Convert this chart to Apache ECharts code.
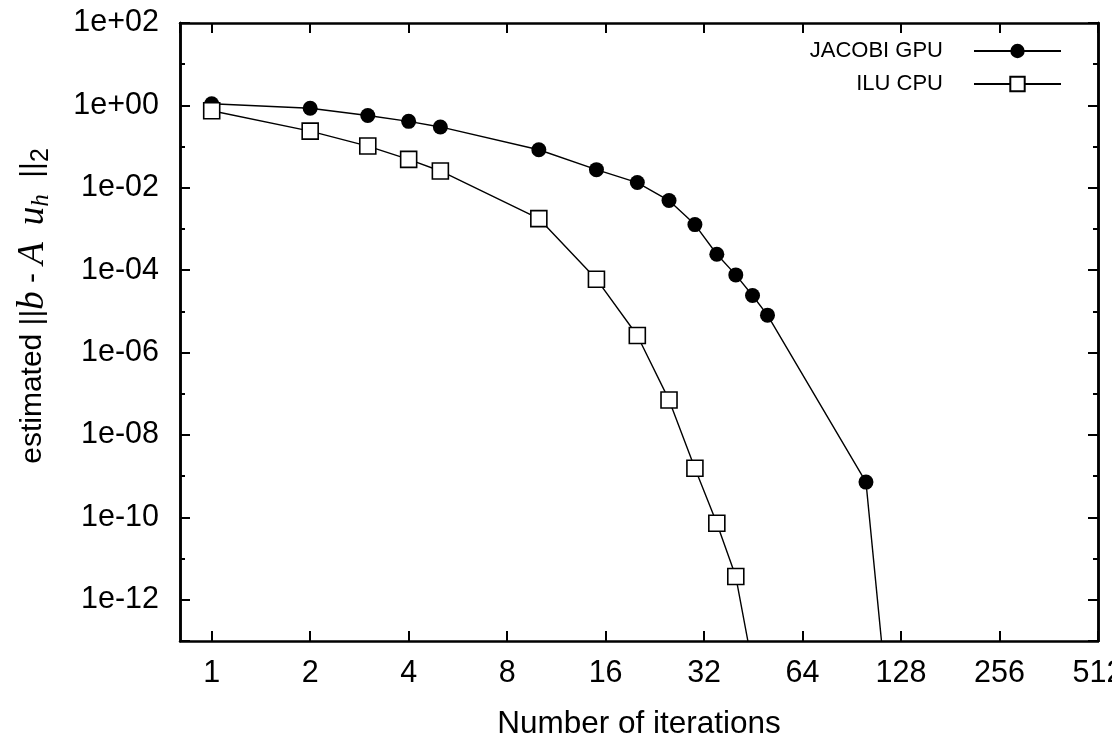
<!DOCTYPE html>
<html>
<head>
<meta charset="utf-8">
<script src="https://cdn.jsdelivr.net/npm/echarts@6/dist/echarts.min.js"></script>
<style>html,body{margin:0;padding:0;background:#fff;}#main{width:1112px;height:738px;}</style>
</head>
<body>
<div id="main"></div>
<script>
// ---- data ----
const seriesNames = ['JACOBI GPU', 'ILU CPU'];
const jacobiIter = [1, 2, 3, 4, 5, 10, 15, 20, 25, 30, 35, 40, 45, 50, 100, 120];
const jacobiRes  = [1.1, 0.85, 0.57, 0.41, 0.30, 0.084, 0.0276, 0.0134, 0.0049, 0.00128, 2.44e-4, 7.7e-5, 2.43e-5, 8.1e-6, 7.2e-10, 2.6e-16];
const iluIter = [1, 2, 3, 4, 5, 10, 15, 20, 25, 30, 35, 40, 45];
const iluRes  = [0.74, 0.238, 0.103, 0.049, 0.0256, 0.00179, 6.05e-5, 2.6e-6, 7.1e-8, 1.56e-9, 7.2e-11, 3.67e-12, 2.5e-14];
const xRange = [0.8, 512];
const yRange = [1e-13, 1e2];
const xTitle = 'Number of iterations';

const FONT = 'Liberation Sans, Arial, sans-serif';
const SERIF = 'Liberation Serif, Times New Roman, serif';

function xLabel(v) {
  const e = Math.log2(v);
  if (Math.abs(e - Math.round(e)) > 1e-6) return '';
  return String(Math.round(v));
}
function yLabel(v) {
  const e = Math.round(Math.log10(v));
  if (Math.abs(Math.log10(v) - e) > 1e-6 || e % 2 !== 0) return '';
  const s = e < 0 ? '-' : '+';
  const a = Math.abs(e);
  return '1e' + s + (a < 10 ? '0' + a : String(a));
}

const pair = (xs, ys) => xs.map((x, i) => [x, ys[i]]);

const axisLine = { show: true, lineStyle: { color: '#000', width: 2.5 } };

const chart = echarts.init(document.getElementById('main'), null, { renderer: 'canvas' });
chart.setOption({
  backgroundColor: '#fff',
  animation: false,
  grid: { left: 180, right: 14, top: 23, bottom: 97, containLabel: false, outerBoundsMode: 'none' },
  legend: {
    orient: 'vertical', right: 45, top: 35, align: 'right',
    itemWidth: 87, itemHeight: 18, itemGap: 11,
    textStyle: { fontSize: 22, fontFamily: FONT, color: '#000', padding: [0, 26, 0, 0] },
    data: seriesNames
  },
  xAxis: [
    {
      type: 'log', logBase: 2, min: xRange[0], max: xRange[1],
      name: xTitle, nameLocation: 'middle', nameGap: 67,
      nameTextStyle: { fontSize: 31.5, fontFamily: FONT, color: '#000' },
      axisLine: axisLine, splitLine: { show: false },
      axisTick: { show: true, inside: true, length: 10, lineStyle: { color: '#000', width: 2 } },
      axisLabel: { formatter: xLabel, fontSize: 30.5, fontFamily: FONT, color: '#000', margin: 17, showMinLabel: false }
    },
    {
      type: 'log', logBase: 2, min: xRange[0], max: xRange[1], position: 'top',
      axisLine: axisLine, splitLine: { show: false },
      axisTick: { show: true, inside: true, length: 10, lineStyle: { color: '#000', width: 2 } },
      axisLabel: { show: false }
    }
  ],
  yAxis: [
    {
      type: 'log', logBase: 10, min: yRange[0], max: yRange[1], interval: 1,
      axisLine: axisLine, splitLine: { show: false },
      axisTick: { show: true, inside: true, length: 5, lineStyle: { color: '#000', width: 2 } },
      axisLabel: { show: false }
    },
    {
      type: 'log', logBase: 100, min: yRange[0], max: yRange[1], position: 'left',
      name: '{t|estimated ||}{i|b}{t| - }{i|A}{t|  }{i|u}{s|h}{t|  ||}{sub|2}',
      nameLocation: 'middle', nameGap: 126, nameRotate: 90,
      nameTextStyle: {
        color: '#000',
        padding: [0, 0, 0, 52],
        rich: {
          t: { fontSize: 30, fontFamily: FONT, color: '#000', lineHeight: 42, verticalAlign: 'middle' },
          i: { fontSize: 37, fontFamily: SERIF, fontStyle: 'italic', color: '#000', lineHeight: 42, verticalAlign: 'middle' },
          s: { fontSize: 25, fontFamily: SERIF, fontStyle: 'italic', color: '#000', lineHeight: 23, verticalAlign: 'bottom' },
          sub: { fontSize: 25, fontFamily: FONT, color: '#000', lineHeight: 23, verticalAlign: 'bottom' }
        }
      },
      axisLine: axisLine, splitLine: { show: false },
      axisTick: { show: true, inside: true, length: 10, lineStyle: { color: '#000', width: 2 } },
      axisLabel: { formatter: yLabel, fontSize: 30.5, fontFamily: FONT, color: '#000', margin: 21 }
    },
    {
      type: 'log', logBase: 10, min: yRange[0], max: yRange[1], interval: 1, position: 'right',
      axisLine: axisLine, splitLine: { show: false },
      axisTick: { show: true, inside: true, length: 5, lineStyle: { color: '#000', width: 2 } },
      axisLabel: { show: false }
    },
    {
      type: 'log', logBase: 100, min: yRange[0], max: yRange[1], position: 'right',
      axisLine: axisLine, splitLine: { show: false },
      axisTick: { show: true, inside: true, length: 10, lineStyle: { color: '#000', width: 2 } },
      axisLabel: { show: false }
    }
  ],
  series: [
    {
      name: seriesNames[0], type: 'line', xAxisIndex: 0, yAxisIndex: 0,
      data: pair(jacobiIter, jacobiRes), clip: true,
      symbol: 'circle', symbolSize: 15,
      lineStyle: { color: '#000', width: 1.4 },
      itemStyle: { color: '#000', borderColor: '#000', borderWidth: 0 }
    },
    {
      name: seriesNames[1], type: 'line', xAxisIndex: 0, yAxisIndex: 0,
      data: pair(iluIter, iluRes), clip: true,
      symbol: 'rect', symbolSize: 16,
      lineStyle: { color: '#000', width: 1.4 },
      itemStyle: { color: '#fff', borderColor: '#000', borderWidth: 1.6 }
    }
  ]
});
</script>
</body>
</html>
